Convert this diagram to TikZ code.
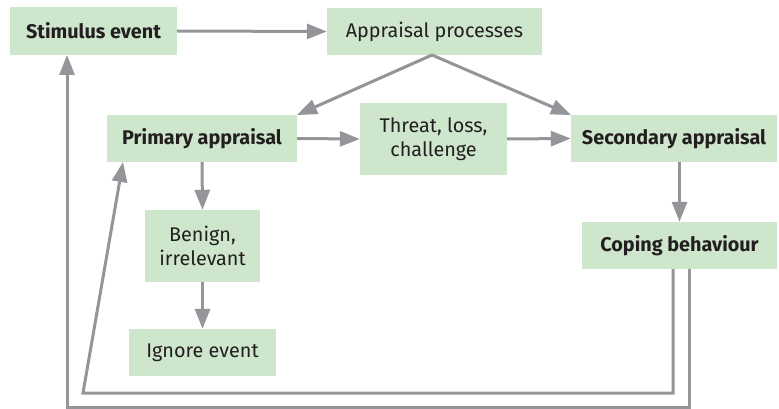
\documentclass[tikz,border=0pt]{standalone}
\usepackage{fontspec}
\setmainfont{Fira Sans}
\usetikzlibrary{arrows.meta}
\definecolor{boxgreen}{HTML}{CDE6CC}
\definecolor{arrgrey}{HTML}{939598}
\definecolor{txt}{HTML}{231F20}
\tikzset{
  box/.style={fill=boxgreen, draw=none, text=txt, align=center, inner sep=0pt,
    font=\fontsize{19.8}{24}\selectfont},
  bbox/.style={box, font=\fontsize{19.8}{24}\selectfont\bfseries},
  conn/.style={draw=arrgrey, line width=3pt, -{Triangle[length=20pt,width=15pt]}},
}
\begin{document}
\begin{tikzpicture}[x=1pt,y=-1pt]
\useasboundingbox (0,0) rectangle (779,409);
\node[bbox, minimum width=167pt, minimum height=48pt] (stim) at (93.5,31) {Stimulus event};
\node[box, minimum width=215pt, minimum height=47pt] (appr) at (434.5,31.5) {Appraisal processes};
\node[bbox, minimum width=190pt, minimum height=47pt] (prim) at (202,138.5) {Primary appraisal};
\node[box, minimum width=147pt, minimum height=72pt] (threat) at (433.5,139) {Threat, loss,\\challenge};
\node[bbox, minimum width=206pt, minimum height=47pt] (sec) at (674,138.5) {Secondary appraisal};
\node[box, minimum width=115pt, minimum height=72pt] (benign) at (202.5,246) {Benign,\\irrelevant};
\node[box, minimum width=147pt, minimum height=47pt] (ignore) at (202.5,352.5) {Ignore event};
\node[bbox, minimum width=195pt, minimum height=47pt] (cope) at (679.5,245.5) {Coping behaviour};

\coordinate (apprb) at (432,55);
\coordinate (primtr) at (297,115);
\coordinate (sectl) at (571,115);
\coordinate (primbl) at (123,162);
\coordinate (c1) at (673,269);
\coordinate (c2) at (673,393);
\coordinate (c3) at (83,393);
\coordinate (d1) at (689,269);
\coordinate (d2) at (689,407);
\coordinate (d3) at (67,407);
\coordinate (stimb) at (67,55);

\draw[conn] (stim.east) -- (appr.west);
\draw[conn] (apprb) -- (primtr);
\draw[conn] (apprb) -- (sectl);
\draw[conn] (prim.east) -- (threat.west);
\draw[conn] (threat.east) -- (sec.west);
\draw[conn] (prim.south) -- (benign.north);
\draw[conn] (benign.south) -- (ignore.north);
\draw[conn] (sec.south -| cope.north) -- (cope.north);
\draw[conn] (c1) -- (c2) -- (c3) -- (primbl);
\draw[conn] (d1) -- (d2) -- (d3) -- (stimb);
\end{tikzpicture}
\end{document}
